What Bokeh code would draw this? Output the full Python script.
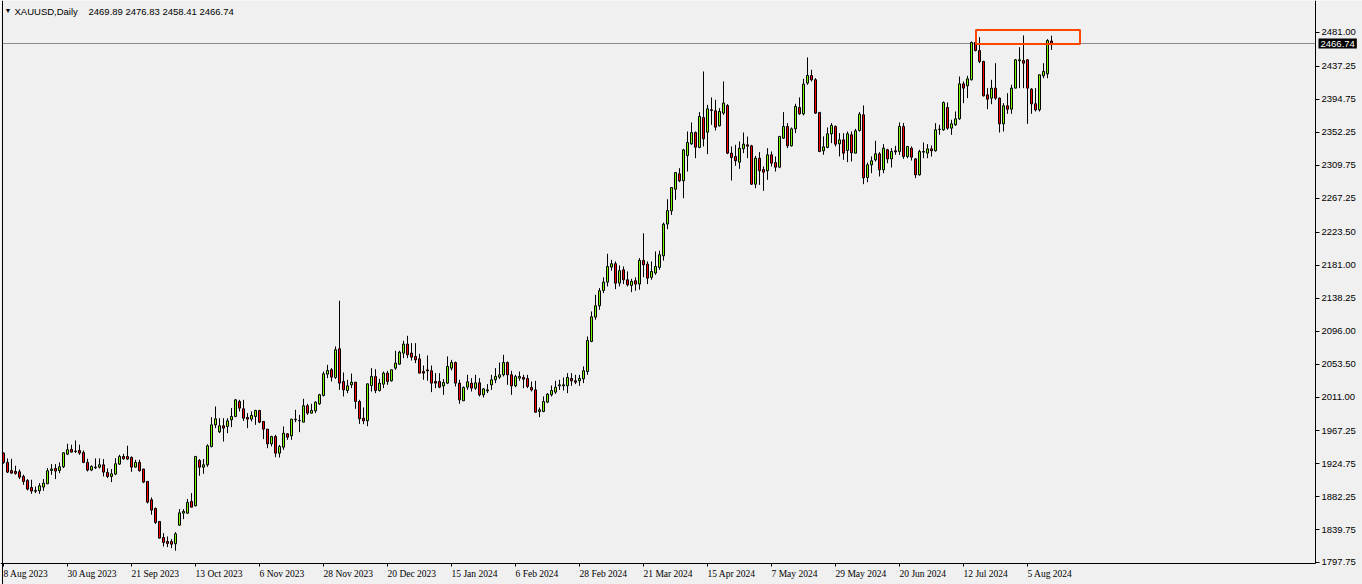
from bokeh.plotting import figure
from bokeh.models import (ColumnDataSource, FixedTicker, Label, LabelSet, Range1d, Span,
                          PrintfTickFormatter)
from bokeh.embed import file_html
from bokeh.resources import INLINE

# ---------------- data (XAUUSD daily) ----------------
opens = [
    1938.7, 1926.7, 1916.3, 1915.0, 1914.6, 1908.6, 1903.4, 1894.4, 1889.5, 1890.1,
    1894.9, 1899.1, 1916.3, 1918.9, 1916.3, 1921.1, 1937.4, 1943.4, 1941.3, 1942.1,
    1939.6, 1926.7, 1916.8, 1919.8, 1920.6, 1923.6, 1913.8, 1908.6, 1911.6, 1924.5,
    1934.4, 1934.4, 1933.1, 1920.6, 1926.7, 1918.1, 1902.2, 1878.5, 1867.3, 1850.6,
    1829.9, 1824.8, 1824.8, 1821.8, 1845.8, 1861.3, 1861.3, 1876.4, 1870.8, 1929.2,
    1920.5, 1923.6, 1947.2, 1975.1, 1966.1, 1973.9, 1973.0, 1981.6, 1985.9, 2005.3,
    1995.8, 1984.6, 1982.5, 1985.9, 1993.6, 1979.5, 1969.6, 1950.6, 1960.1, 1938.6,
    1946.3, 1963.5, 1961.0, 1981.6, 1980.7, 1978.6, 1999.7, 1990.2, 1993.2, 2002.2,
    2013.0, 2040.5, 2046.1, 2036.2, 2073.1, 2031.0, 2019.4, 2026.7, 2030.1, 2005.2,
    1983.7, 1980.3, 2025.8, 2037.5, 2019.4, 2027.6, 2041.8, 2031.9, 2048.2, 2053.4,
    2067.5, 2079.2, 2067.6, 2063.3, 2060.2, 2043.9, 2046.0, 2044.8, 2031.0, 2031.0,
    2025.4, 2028.9, 2048.2, 2055.5, 2028.9, 2006.1, 2023.7, 2028.9, 2022.4, 2029.3,
    2013.8, 2018.9, 2026.7, 2033.2, 2036.6, 2039.6, 2055.5, 2039.6, 2025.4, 2035.3,
    2036.2, 2034.9, 2023.3, 2020.2, 1992.4, 1992.3, 2004.4, 2013.8, 2017.3, 2025.4,
    2025.4, 2025.4, 2034.9, 2031.9, 2031.9, 2034.4, 2043.9, 2082.6, 2114.0, 2128.6,
    2148.4, 2159.1, 2178.5, 2182.8, 2157.8, 2175.0, 2162.1, 2154.8, 2160.9, 2156.6,
    2187.1, 2182.4, 2165.2, 2170.8, 2178.1, 2193.0, 2234.0, 2251.0, 2278.9, 2298.7,
    2289.7, 2322.2, 2337.4, 2352.0, 2332.7, 2371.4, 2352.4, 2381.3, 2380.0, 2360.6,
    2377.0, 2386.8, 2325.4, 2321.1, 2313.7, 2331.0, 2336.1, 2334.8, 2285.4, 2318.9,
    2304.3, 2302.6, 2323.2, 2313.3, 2307.3, 2344.7, 2359.8, 2334.8, 2356.7, 2384.3,
    2376.1, 2415.7, 2425.5, 2420.0, 2377.9, 2328.4, 2332.7, 2350.3, 2359.8, 2337.4,
    2342.5, 2328.9, 2349.0, 2325.4, 2354.6, 2374.8, 2294.0, 2310.3, 2316.8, 2324.5,
    2303.9, 2329.7, 2318.0, 2328.4, 2327.5, 2359.8, 2321.1, 2331.8, 2318.0, 2297.4,
    2326.7, 2325.4, 2330.9, 2328.4, 2355.9, 2355.5, 2384.3, 2357.6, 2361.9, 2369.6,
    2414.7, 2412.2, 2420.0, 2468.1, 2457.7, 2443.6, 2400.6, 2396.3, 2409.2, 2396.3,
    2363.2, 2386.4, 2382.1, 2409.2, 2444.4, 2444.8, 2445.7, 2407.9, 2389.0, 2381.2,
    2425.1, 2427.6, 2469.89,
]
highs = [
    1939.5, 1931.8, 1931.4, 1922.4, 1917.6, 1910.8, 1905.2, 1904.3, 1895.7, 1900.0,
    1905.2, 1919.4, 1924.5, 1924.5, 1926.7, 1939.5, 1950.7, 1949.5, 1955.0, 1949.5,
    1942.1, 1931.4, 1923.0, 1931.8, 1931.8, 1931.0, 1918.9, 1918.1, 1932.2, 1936.5,
    1937.8, 1948.2, 1934.4, 1930.1, 1930.1, 1918.5, 1902.2, 1881.5, 1868.6, 1850.6,
    1835.5, 1831.2, 1827.8, 1836.8, 1866.5, 1866.5, 1879.4, 1887.1, 1934.4, 1931.0,
    1931.0, 1950.0, 1985.0, 1998.8, 1983.7, 1983.7, 1983.7, 1996.7, 2008.3, 2007.4,
    2007.4, 1990.2, 1992.4, 1994.5, 1994.5, 1979.5, 1969.6, 1961.0, 1962.2, 1949.3,
    1973.0, 1964.4, 1982.5, 1994.5, 1988.0, 2008.7, 2002.2, 2002.2, 2005.3, 2015.1,
    2043.9, 2052.5, 2048.2, 2076.2, 2135.1, 2042.6, 2033.2, 2041.3, 2030.1, 2007.4,
    1997.5, 2028.0, 2048.2, 2046.9, 2034.4, 2043.9, 2044.8, 2046.1, 2070.6, 2070.6,
    2083.5, 2089.9, 2080.5, 2080.5, 2066.7, 2051.6, 2064.5, 2051.6, 2041.8, 2041.8,
    2034.0, 2063.3, 2058.9, 2056.8, 2033.2, 2024.6, 2039.6, 2035.3, 2039.6, 2035.3,
    2022.4, 2027.6, 2039.6, 2048.2, 2055.5, 2065.4, 2056.8, 2044.8, 2039.6, 2043.9,
    2039.6, 2039.6, 2031.0, 2031.9, 1997.5, 2011.7, 2016.0, 2025.8, 2031.9, 2033.2,
    2036.2, 2041.8, 2041.8, 2039.6, 2039.6, 2050.4, 2089.1, 2121.3, 2142.8, 2151.4,
    2165.2, 2195.7, 2187.9, 2185.8, 2180.6, 2179.3, 2172.9, 2163.4, 2165.2, 2190.1,
    2222.0, 2185.8, 2185.8, 2198.7, 2199.6, 2235.9, 2266.0, 2281.1, 2300.4, 2306.0,
    2330.9, 2353.3, 2364.9, 2353.3, 2378.3, 2430.7, 2387.7, 2397.2, 2394.2, 2383.4,
    2417.8, 2388.6, 2334.0, 2336.1, 2340.4, 2352.0, 2346.8, 2336.1, 2321.9, 2326.7,
    2308.2, 2331.8, 2327.5, 2321.1, 2347.7, 2378.3, 2364.1, 2358.5, 2389.0, 2397.2,
    2421.2, 2448.8, 2432.9, 2422.1, 2377.9, 2346.9, 2358.5, 2364.1, 2361.1, 2351.2,
    2351.2, 2353.3, 2353.3, 2356.7, 2378.3, 2386.9, 2313.3, 2321.1, 2341.3, 2326.7,
    2337.0, 2331.0, 2331.8, 2334.8, 2364.9, 2364.1, 2334.0, 2334.0, 2318.9, 2329.7,
    2339.1, 2337.0, 2335.3, 2364.1, 2361.9, 2392.0, 2390.7, 2368.4, 2379.1, 2424.2,
    2417.8, 2425.1, 2469.4, 2474.9, 2474.9, 2444.4, 2409.2, 2419.9, 2441.4, 2397.1,
    2389.8, 2402.7, 2413.5, 2446.6, 2462.0, 2477.1, 2446.6, 2409.2, 2409.2, 2426.4,
    2441.4, 2472.4, 2476.83,
]
lows = [
    1924.9, 1912.9, 1912.5, 1910.8, 1905.2, 1897.8, 1890.5, 1886.2, 1887.1, 1886.2,
    1890.1, 1899.1, 1910.8, 1905.2, 1912.9, 1919.4, 1936.1, 1939.6, 1938.7, 1936.5,
    1925.8, 1915.0, 1915.5, 1918.1, 1918.9, 1908.6, 1906.5, 1901.3, 1910.3, 1923.6,
    1930.1, 1930.1, 1914.6, 1920.2, 1915.0, 1900.0, 1873.8, 1859.2, 1847.5, 1828.6,
    1818.3, 1817.5, 1816.2, 1812.8, 1845.0, 1853.6, 1860.4, 1869.0, 1870.0, 1909.5,
    1912.0, 1921.0, 1946.0, 1970.9, 1964.4, 1953.6, 1964.4, 1972.1, 1985.0, 1992.4,
    1980.3, 1970.9, 1979.5, 1975.1, 1977.3, 1956.7, 1945.0, 1947.2, 1933.4, 1933.0,
    1942.9, 1955.8, 1955.8, 1978.6, 1965.7, 1978.6, 1988.0, 1990.2, 1990.2, 2000.9,
    2011.7, 2035.3, 2031.0, 2034.4, 2020.3, 2011.7, 2016.0, 2022.4, 1995.8, 1976.4,
    1976.0, 1973.4, 2018.1, 2016.0, 2018.1, 2022.4, 2026.7, 2031.0, 2046.1, 2052.5,
    2061.1, 2061.1, 2058.1, 2054.7, 2041.8, 2033.2, 2031.9, 2017.3, 2022.4, 2022.4,
    2013.8, 2027.6, 2045.2, 2024.6, 2002.2, 2006.1, 2020.2, 2018.1, 2020.2, 2011.7,
    2010.4, 2016.0, 2020.2, 2028.9, 2034.4, 2037.5, 2026.7, 2013.8, 2023.7, 2031.9,
    2022.4, 2022.4, 2018.1, 1991.0, 1985.0, 1991.4, 2003.1, 2011.7, 2015.1, 2020.2,
    2019.4, 2016.0, 2025.4, 2027.6, 2025.4, 2028.9, 2039.6, 2081.7, 2110.6, 2123.4,
    2144.9, 2153.6, 2173.8, 2150.1, 2153.6, 2156.6, 2153.6, 2146.2, 2148.0, 2149.3,
    2165.6, 2156.6, 2162.1, 2168.6, 2175.0, 2186.9, 2227.3, 2245.8, 2265.2, 2288.0,
    2267.3, 2301.7, 2336.1, 2318.9, 2331.8, 2334.0, 2324.1, 2361.9, 2354.6, 2359.8,
    2374.8, 2324.1, 2290.1, 2309.0, 2305.2, 2325.4, 2318.9, 2284.5, 2280.2, 2284.5,
    2276.8, 2291.0, 2308.2, 2301.7, 2306.0, 2343.8, 2331.8, 2334.0, 2351.2, 2374.8,
    2374.0, 2413.5, 2417.8, 2376.1, 2326.7, 2323.2, 2331.8, 2338.3, 2334.0, 2321.1,
    2316.8, 2313.8, 2314.7, 2325.4, 2353.3, 2285.4, 2287.9, 2299.5, 2314.6, 2295.3,
    2299.5, 2312.5, 2306.9, 2323.2, 2323.2, 2318.0, 2318.9, 2315.9, 2293.1, 2296.5,
    2318.9, 2318.9, 2321.1, 2327.5, 2349.0, 2354.2, 2355.5, 2349.0, 2360.6, 2368.3,
    2389.8, 2396.3, 2419.1, 2456.5, 2441.4, 2398.4, 2382.1, 2388.5, 2394.1, 2352.0,
    2353.3, 2376.1, 2376.1, 2409.2, 2409.2, 2409.2, 2363.2, 2376.1, 2379.1, 2379.1,
    2422.0, 2422.0, 2458.41,
]
closes = [
    1926.7, 1914.2, 1912.9, 1912.5, 1907.7, 1902.1, 1892.3, 1889.7, 1890.5, 1896.6,
    1900.0, 1915.9, 1918.1, 1915.5, 1921.1, 1939.1, 1943.0, 1940.0, 1940.9, 1938.7,
    1926.7, 1916.8, 1921.5, 1920.6, 1923.6, 1914.2, 1908.6, 1912.0, 1924.9, 1934.4,
    1931.4, 1931.0, 1920.6, 1926.7, 1915.9, 1901.3, 1875.5, 1865.2, 1849.3, 1829.1,
    1823.5, 1822.2, 1821.3, 1834.6, 1861.7, 1863.5, 1875.1, 1869.0, 1934.4, 1920.6,
    1923.6, 1948.1, 1975.1, 1982.9, 1973.9, 1970.9, 1980.3, 1985.9, 2007.4, 1996.7,
    1983.7, 1982.5, 1987.2, 1993.6, 1978.6, 1969.6, 1950.6, 1960.1, 1938.6, 1947.2,
    1964.4, 1959.2, 1982.5, 1982.5, 1980.3, 1999.7, 1990.2, 1993.6, 2004.4, 2013.9,
    2040.9, 2045.2, 2036.6, 2071.9, 2028.9, 2020.3, 2025.4, 2030.1, 2005.2, 1982.9,
    1980.3, 2028.0, 2037.5, 2019.4, 2028.9, 2041.8, 2031.0, 2046.1, 2054.7, 2068.8,
    2079.2, 2065.4, 2062.4, 2059.0, 2041.8, 2041.8, 2044.8, 2028.9, 2028.9, 2023.7,
    2029.7, 2050.4, 2055.5, 2028.9, 2007.4, 2023.3, 2030.6, 2022.4, 2029.3, 2013.8,
    2021.5, 2020.2, 2033.2, 2037.5, 2039.6, 2055.5, 2039.6, 2025.4, 2037.5, 2037.5,
    2034.0, 2024.6, 2020.2, 1991.4, 1994.5, 2005.2, 2014.7, 2019.4, 2023.7, 2026.7,
    2026.7, 2036.2, 2031.9, 2030.1, 2034.9, 2044.8, 2083.9, 2114.4, 2128.6, 2148.0,
    2159.1, 2179.3, 2182.8, 2157.8, 2173.8, 2162.1, 2155.7, 2160.0, 2156.6, 2187.1,
    2181.5, 2164.3, 2172.9, 2179.3, 2194.4, 2233.8, 2251.4, 2281.1, 2300.4, 2289.7,
    2329.6, 2339.1, 2352.0, 2333.1, 2372.7, 2343.8, 2382.5, 2380.4, 2358.9, 2379.1,
    2389.9, 2325.4, 2319.8, 2315.5, 2331.8, 2337.0, 2334.4, 2285.4, 2318.9, 2302.6,
    2300.9, 2323.2, 2312.5, 2307.3, 2346.9, 2359.8, 2334.8, 2356.7, 2385.6, 2376.1,
    2414.4, 2425.5, 2420.0, 2377.0, 2327.5, 2333.5, 2350.3, 2361.1, 2337.0, 2342.5,
    2325.4, 2350.3, 2325.8, 2354.2, 2375.7, 2293.6, 2310.3, 2315.5, 2324.5, 2303.9,
    2331.8, 2318.0, 2327.5, 2327.1, 2359.8, 2321.1, 2334.0, 2320.2, 2297.4, 2327.5,
    2327.5, 2330.9, 2328.4, 2355.5, 2356.3, 2390.7, 2357.6, 2363.2, 2369.6, 2414.7,
    2409.2, 2421.2, 2468.1, 2457.7, 2443.6, 2399.3, 2395.0, 2409.2, 2396.3, 2363.2,
    2386.4, 2382.1, 2409.2, 2445.7, 2445.7, 2441.4, 2409.2, 2389.0, 2381.2, 2426.4,
    2430.7, 2470.6, 2466.74,
]

date_labels = ["8 Aug 2023", "30 Aug 2023", "21 Sep 2023", "13 Oct 2023", "6 Nov 2023",
               "28 Nov 2023", "20 Dec 2023", "15 Jan 2024", "6 Feb 2024", "28 Feb 2024",
               "21 Mar 2024", "15 Apr 2024", "7 May 2024", "29 May 2024", "20 Jun 2024",
               "12 Jul 2024", "5 Aug 2024"]
date_bars = [0, 16, 32, 48, 64, 80, 96, 112, 128, 144, 160, 176, 192, 208, 224, 240, 256]

price_ticks = [2481.00, 2437.25, 2394.75, 2352.25, 2309.75, 2267.25, 2223.50, 2181.00,
               2138.25, 2096.00, 2053.50, 2011.00, 1967.25, 1924.75, 1882.25, 1839.75, 1797.75]

last_price = 2466.74
symbol_text = "XAUUSD,Daily"
ohlc_text = "2469.89 2476.83 2458.41 2466.74"

# highlighted zone (bars / prices)
zone_left, zone_right = 243.125, 269.125
zone_bottom, zone_top = 2466.10, 2484.15

# ---------------- layout constants ----------------
W, H = 1362, 584
X_START, X_END = -0.75, 339.75        # 4 px per bar, bar centres on the pixel grid
Y_START, Y_END = 1769.29, 2522.18
LEFT_EDGE = -0.25                     # chart's left border
PRICE_AXIS_X = 328.0                  # where the price scale starts
TIME_AXIS_Y = 1796.36                 # where the time scale starts

BG = "#f0f0f0"
BULL = "#7cfc00"
BEAR = "#ff0000"
FONT = "Liberation Sans"
FS = "9.5px"

idx = list(range(len(opens)))
bull = [i for i in idx if closes[i] >= opens[i]]
bear = [i for i in idx if closes[i] < opens[i]]

src_bull = ColumnDataSource(dict(x=bull, o=[opens[i] for i in bull], c=[closes[i] for i in bull]))
src_bear = ColumnDataSource(dict(x=bear, o=[opens[i] for i in bear], c=[closes[i] for i in bear]))
src_wick = ColumnDataSource(dict(x=idx, h=highs, l=lows))

p = figure(width=W, height=H,
           x_range=Range1d(X_START, X_END), y_range=Range1d(Y_START, Y_END),
           output_backend="svg", toolbar_location=None, y_axis_location="right",
           min_border=0, background_fill_color=BG, border_fill_color=BG)
p.grid.visible = False
p.outline_line_color = None

# price scale (right side, placed at the chart's right edge)
yax = p.yaxis[0]
yax.fixed_location = PRICE_AXIS_X
yax.bounds = (TIME_AXIS_Y, Y_END)
yax.ticker = FixedTicker(ticks=price_ticks)
yax.formatter = PrintfTickFormatter(format="%.2f")
yax.axis_line_color = "black"
yax.major_tick_in = 0
yax.major_tick_out = 4
yax.major_tick_line_color = "black"
yax.minor_tick_line_color = None
yax.major_label_standoff = 2
yax.major_label_text_font = FONT
yax.major_label_text_font_size = FS
yax.major_label_text_color = "black"

# time scale (bottom) - ticks here, labels left-aligned below
xax = p.xaxis[0]
xax.fixed_location = TIME_AXIS_Y
xax.bounds = (X_START, PRICE_AXIS_X)
xax.ticker = FixedTicker(ticks=date_bars)
xax.axis_line_color = "black"
xax.major_tick_in = 0
xax.major_tick_out = 3
xax.major_tick_line_color = "black"
xax.minor_tick_line_color = None
xax.major_label_text_font_size = "1px"
xax.major_label_text_alpha = 0
xax.major_label_standoff = 0

# left border of the chart window
p.add_layout(Span(location=LEFT_EDGE, dimension="height", line_color="black", line_width=1))

# current price line (chart area only)
p.segment(x0=[LEFT_EDGE], y0=[last_price], x1=[PRICE_AXIS_X], y1=[last_price],
          line_color="#8c8c8c", line_width=1)

# wicks and bodies
p.segment(x0="x", y0="l", x1="x", y1="h", source=src_wick, line_color="black", line_width=1)
p.vbar(x="x", bottom="o", top="c", width=0.5, source=src_bull,
       fill_color=BULL, line_color="black", line_width=1)
p.vbar(x="x", bottom="c", top="o", width=0.5, source=src_bear,
       fill_color=BEAR, line_color="black", line_width=1)

# highlighted zone
p.quad(left=[zone_left], right=[zone_right], bottom=[zone_bottom], top=[zone_top],
       fill_alpha=0, line_color="#ff4500", line_width=2)

# date labels under the time axis, left-aligned at their bar
date_src = ColumnDataSource(dict(x=date_bars, y=[TIME_AXIS_Y] * len(date_bars), text=date_labels))
p.add_layout(LabelSet(x="x", y="y", text="text", source=date_src, y_offset=-5, x_offset=0,
                      text_align="left", text_baseline="top",
                      text_font=FONT, text_font_size=FS, text_color="black"))

# title: triangle, symbol/period, OHLC of the last bar
p.add_layout(Label(x=X_START, y=Y_END, x_offset=4, y_offset=-6, text="\u25bc",
                   text_align="left", text_baseline="top", text_font=FONT,
                   text_font_size="7px", text_color="black"))
p.add_layout(Label(x=X_START, y=Y_END, x_offset=14, y_offset=-5, text=symbol_text,
                   text_align="left", text_baseline="top", text_font=FONT,
                   text_font_size=FS, text_color="black"))
p.add_layout(Label(x=X_START, y=Y_END, x_offset=88, y_offset=-5, text=ohlc_text,
                   text_align="left", text_baseline="top", text_font=FONT,
                   text_font_size=FS, text_color="black"))

# last price tag on the price scale
p.add_layout(Label(x=PRICE_AXIS_X, y=last_price, x_offset=3,
                   text="%.2f" % last_price, text_align="left", text_baseline="middle",
                   text_font=FONT, text_font_size=FS, text_color="white",
                   background_fill_color="black", padding=2))

open("out.html", "w").write(file_html(p, INLINE))
